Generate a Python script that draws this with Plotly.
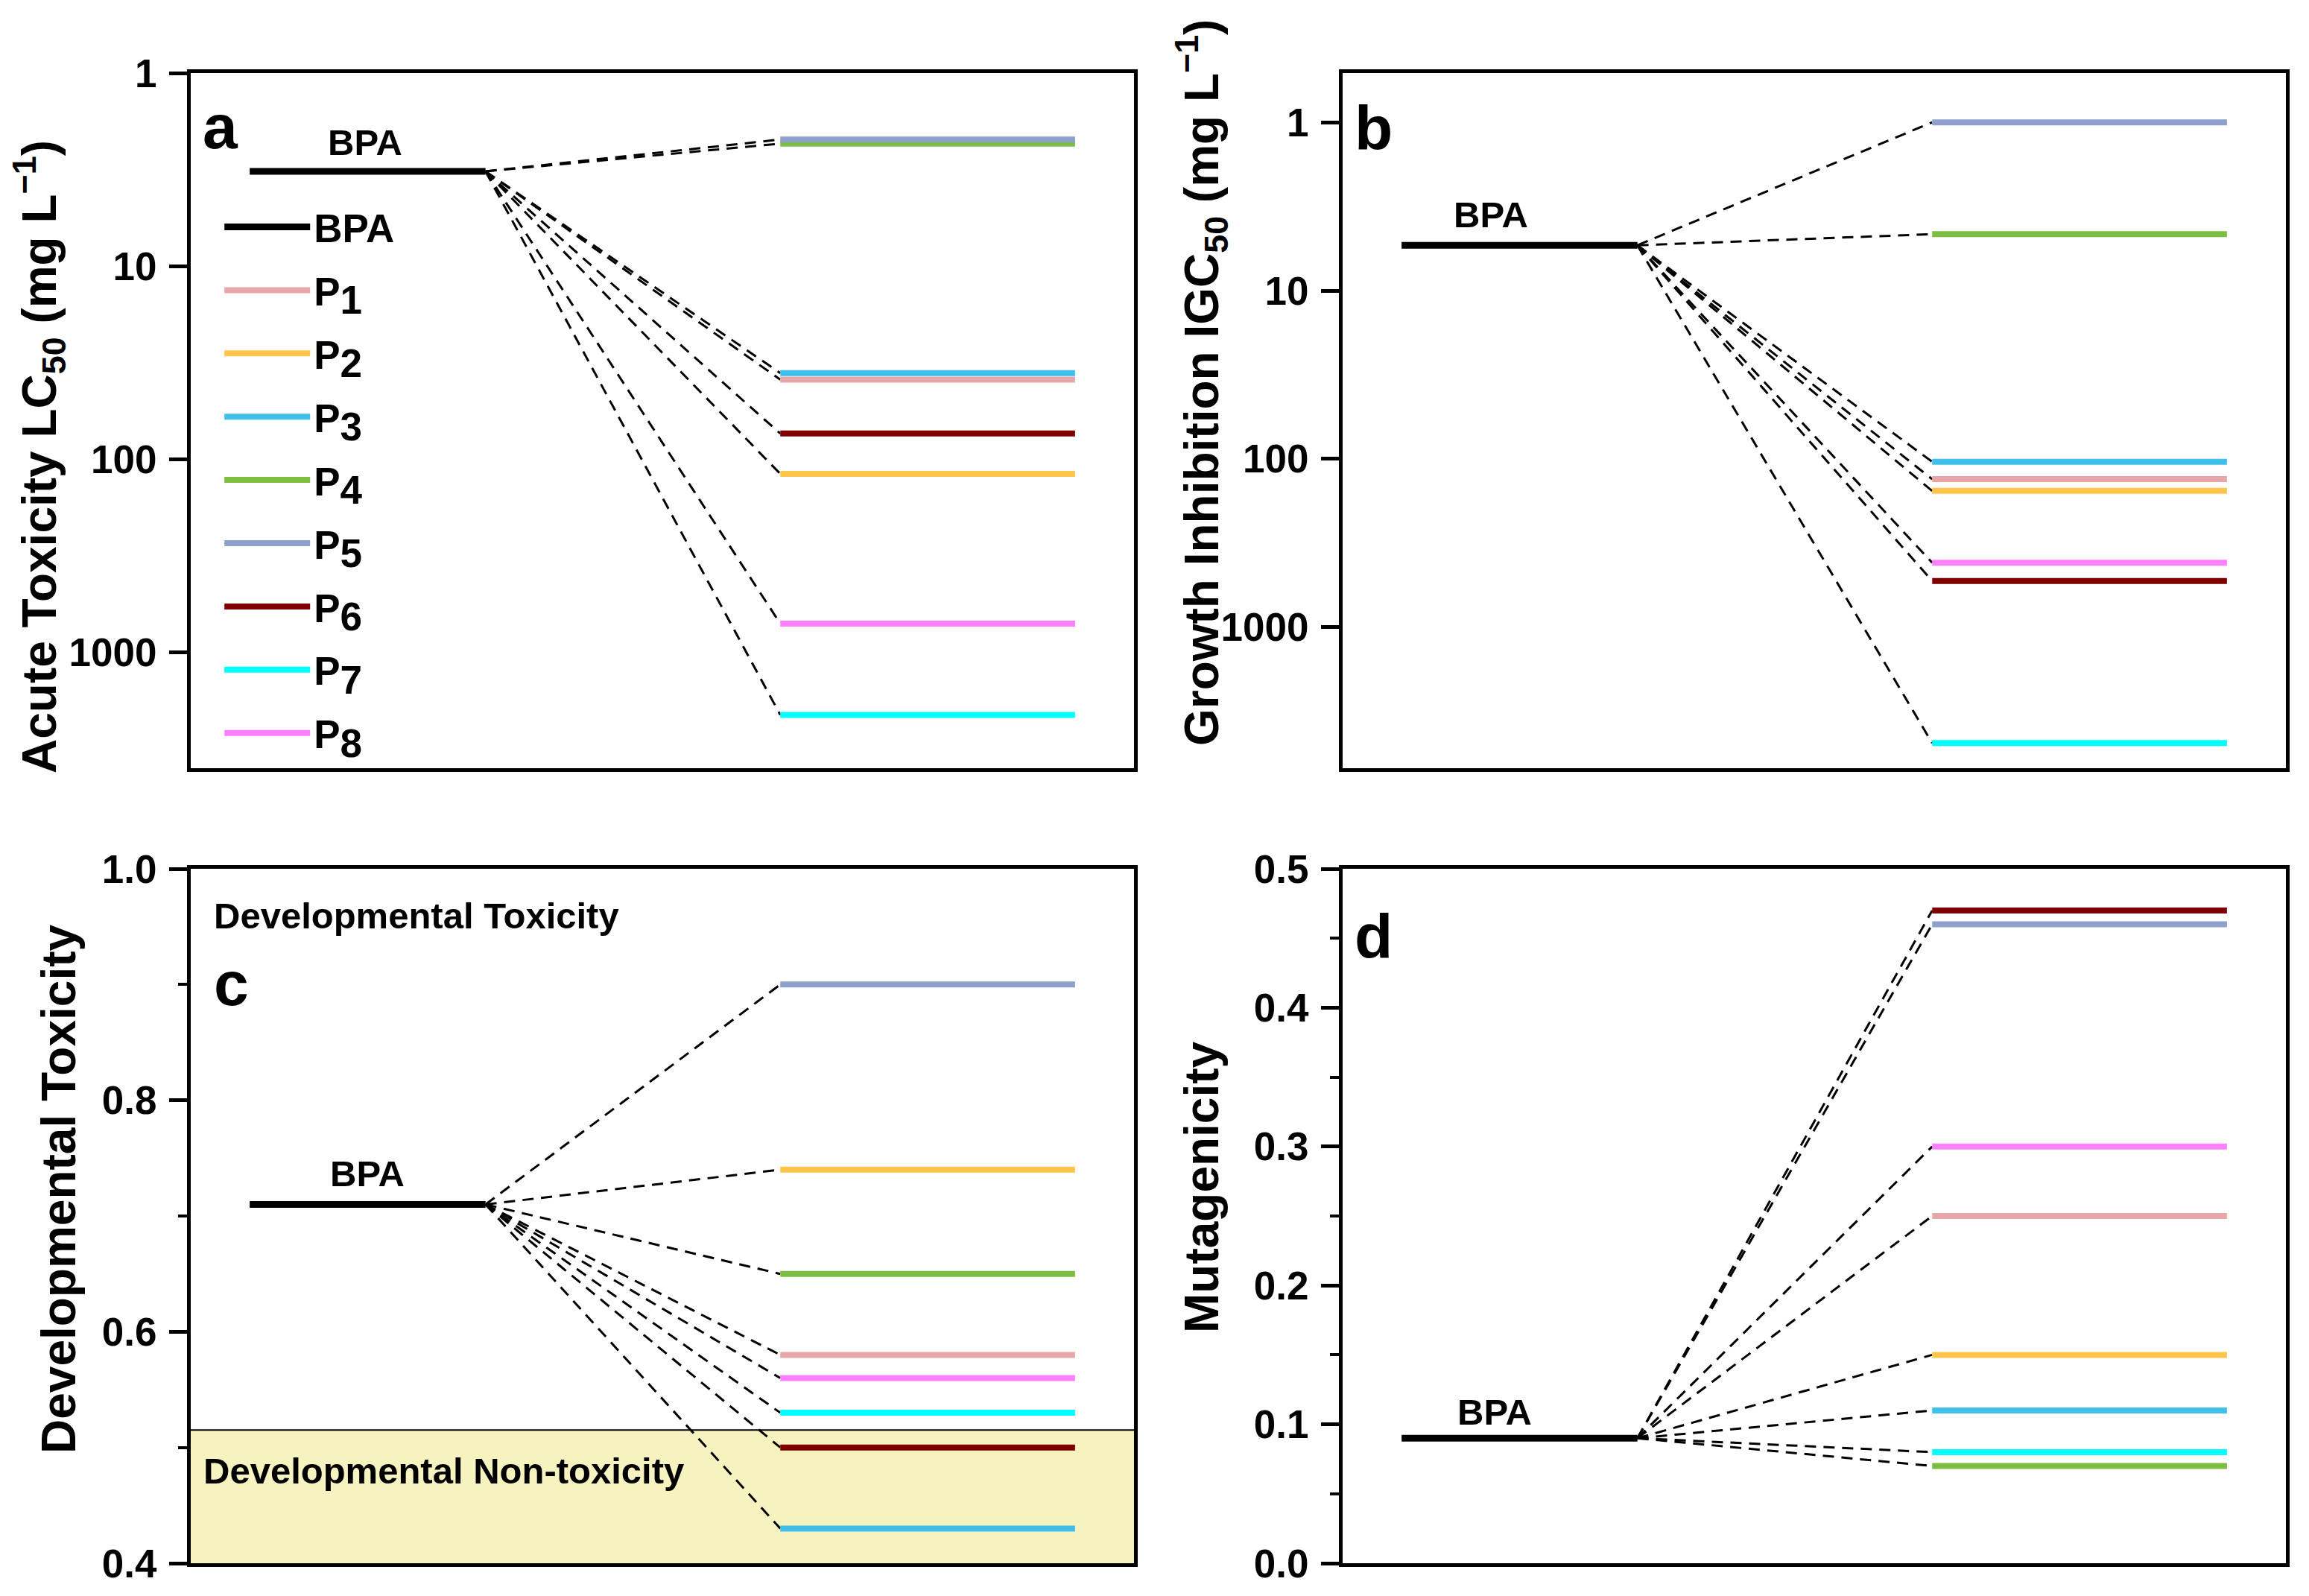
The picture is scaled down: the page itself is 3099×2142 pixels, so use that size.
import numpy as np
import plotly.graph_objects as go

# ---------------- data ----------------
products = ["P1", "P2", "P3", "P4", "P5", "P6", "P7", "P8"]
sub_digits = ["1", "2", "3", "4", "5", "6", "7", "8"]
colors = ["#E8A6A8", "#FFC54A", "#3FC0EA", "#7CBE3F",
          "#8EA1CC", "#800000", "#00FFFF", "#FF80FF"]

lc50_bpa = 3.23
lc50 = [38.7, 119, 35.8, 2.32, 2.21, 73.6, 2108, 710]

igc50_bpa = 5.38
igc50 = [132, 155, 104, 4.62, 1.0, 531, 4885, 414]

dev_bpa = 0.71
dev = [0.58, 0.74, 0.43, 0.65, 0.90, 0.50, 0.53, 0.56]
dev_threshold = 0.515

mut_bpa = 0.09
mut = [0.25, 0.15, 0.11, 0.07, 0.46, 0.47, 0.08, 0.30]

bpa_x = [0.25, 1.25]
prod_x = [2.5, 3.75]

log_ticks = [1, 10, 100, 1000]
log_tick_text = ["1", "10", "100", "1000"]

FONT = "Liberation Sans, Arial, sans-serif"
W, H = 3099, 2142
OFF = 8  # page body margin in the browser
LEG_SIZE = 53

legend_names = ["P<sub><span style='font-size:%dpx'>%s</span></sub>" % (LEG_SIZE, d)
                for d in sub_digits]

def px_x(x):
    return (x - OFF) / W

def px_y(y):
    return 1 - (y - OFF) / H

fig = go.Figure()

panels = [
    ("x", "y", lc50_bpa, lc50, True),
    ("x2", "y2", igc50_bpa, igc50, False),
    ("x3", "y3", dev_bpa, dev, False),
    ("x4", "y4", mut_bpa, mut, False),
]

for xa, ya, bpa, vals, show_leg in panels:
    for v in vals:
        fig.add_trace(go.Scatter(
            x=[bpa_x[1], prod_x[0]], y=[bpa, v], mode="lines",
            line=dict(color="black", width=3, dash="15px,10px"),
            xaxis=xa, yaxis=ya, showlegend=False, hoverinfo="skip"))
    fig.add_trace(go.Scatter(
        x=bpa_x, y=[bpa, bpa], mode="lines",
        line=dict(color="black", width=9),
        name="BPA", legendgroup="BPA", showlegend=show_leg,
        xaxis=xa, yaxis=ya))
    for name, lname, col, v in zip(products, legend_names, colors, vals):
        fig.add_trace(go.Scatter(
            x=prod_x, y=[v, v], mode="lines",
            line=dict(color=col, width=8),
            name=lname, legendgroup=name, showlegend=show_leg,
            xaxis=xa, yaxis=ya))

xdom_l = [px_x(256), px_x(1522)]
xdom_r = [px_x(1802), px_x(3068)]
ydom_t = [px_y(1031), px_y(98)]
ydom_b = [px_y(2098), px_y(1166)]

tickfont = dict(family=FONT, size=53, color="black", weight="bold")

def xax(dom, anchor):
    return dict(domain=dom, anchor=anchor, range=[0, 4], showticklabels=False,
                ticks="", showline=True, linewidth=5, linecolor="black",
                mirror=True, showgrid=False, zeroline=False, fixedrange=True,
                automargin=False)

def yax(dom, anchor, **kw):
    d = dict(domain=dom, anchor=anchor, showline=True, linewidth=5,
             linecolor="black", mirror=True, showgrid=False, zeroline=False,
             ticks="outside", ticklen=24, tickwidth=5, tickcolor="black",
             tickfont=tickfont, ticklabelstandoff=6, automargin=False)
    d.update(kw)
    return d

fig.update_layout(
    width=W, height=H, autosize=False,
    margin=dict(l=0, r=0, t=0, b=0, pad=0, autoexpand=False),
    paper_bgcolor="white", plot_bgcolor="white",
    font=dict(family=FONT, color="black"),
    xaxis=xax(xdom_l, "y"),
    xaxis2=xax(xdom_r, "y2"),
    xaxis3=xax(xdom_l, "y3"),
    xaxis4=xax(xdom_r, "y4"),
    yaxis=yax(ydom_t, "x", type="log", range=[3.6, 0],
              tickvals=log_ticks, ticktext=log_tick_text),
    yaxis2=yax(ydom_t, "x2", type="log", range=[3.838, -0.293],
               tickvals=log_ticks, ticktext=log_tick_text),
    yaxis3=yax(ydom_b, "x3", range=[0.4, 1.0], dtick=0.2, tick0=0.4,
               tickformat=".1f",
               minor=dict(dtick=0.1, ticks="outside", ticklen=12,
                          tickwidth=4, tickcolor="black", showgrid=False)),
    yaxis4=yax(ydom_b, "x4", range=[0, 0.5], dtick=0.1, tickformat=".1f",
               minor=dict(dtick=0.05, ticks="outside", ticklen=12,
                          tickwidth=4, tickcolor="black", showgrid=False)),
    legend=dict(x=0.093, y=0.8807, xanchor="left", yanchor="top",
                font=dict(family=FONT, size=LEG_SIZE, color="black", weight="bold"),
                itemwidth=115, tracegroupgap=13, traceorder="grouped",
                bgcolor="rgba(0,0,0,0)", borderwidth=0),
    showlegend=True,
)

fig.add_shape(type="rect", xref="x3 domain", yref="y3", x0=0, x1=1,
              y0=0.4, y1=dev_threshold, fillcolor="#F6F3C1",
              line=dict(width=0), layer="below")
fig.add_shape(type="line", xref="x3 domain", yref="y3", x0=0, x1=1,
              y0=dev_threshold, y1=dev_threshold,
              line=dict(color="black", width=2), layer="above")

ann = []
def bold(t):
    return "<b>" + t + "</b>"

for letter, xr, yr, yy, xx in [("a", "x domain", "y domain", 0.923, 0.011),
                               ("b", "x2 domain", "y2 domain", 0.921, 0.011),
                               ("c", "x3 domain", "y3 domain", 0.835, 0.023),
                               ("d", "x4 domain", "y4 domain", 0.902, 0.011)]:
    ann.append(dict(text=bold(letter), xref=xr, yref=yr, x=xx, y=yy,
                    xanchor="left", yanchor="middle", showarrow=False,
                    font=dict(family=FONT, size=84, color="black")))

for xr, yr, xx, yy, sh in [("x", "y", 0.74, np.log10(lc50_bpa), 10),
                           ("x2", "y2", 0.63, np.log10(igc50_bpa), 12),
                           ("x3", "y3", 0.75, dev_bpa, 12),
                           ("x4", "y4", 0.645, mut_bpa, 6)]:
    ann.append(dict(text=bold("BPA"), xref=xr, yref=yr, x=xx, y=yy,
                    xanchor="center", yanchor="bottom", yshift=sh,
                    showarrow=False,
                    font=dict(family=FONT, size=49, color="black")))

ann.append(dict(text=bold("Developmental Toxicity"), xref="x3 domain",
                yref="y3 domain", x=0.023, y=0.932, xanchor="left",
                yanchor="middle", showarrow=False,
                font=dict(family=FONT, size=49, color="black")))
ann.append(dict(text=bold("Developmental Non-toxicity"), xref="x3 domain",
                yref="y3 domain", x=0.012, y=0.133, xanchor="left",
                yanchor="middle", showarrow=False,
                font=dict(family=FONT, size=49, color="black")))

titles = [
    ("Acute Toxicity LC<sub>50</sub> (mg L<sup>−1</sup>)", 52, 613),
    ("Growth Inhibition IGC<sub>50</sub> (mg L<sup>−1</sup>)", 1612, 514),
    ("Developmental Toxicity", 79, 1596),
    ("Mutagenicity", 1613, 1593),
]
for t, xx, yy in titles:
    ann.append(dict(text=bold(t), xref="paper", yref="paper",
                    x=px_x(xx), y=px_y(yy),
                    xanchor="center", yanchor="middle", textangle=-90,
                    showarrow=False,
                    font=dict(family=FONT, size=64, color="black")))

fig.update_layout(annotations=ann)

fig.write_html("out.html")
